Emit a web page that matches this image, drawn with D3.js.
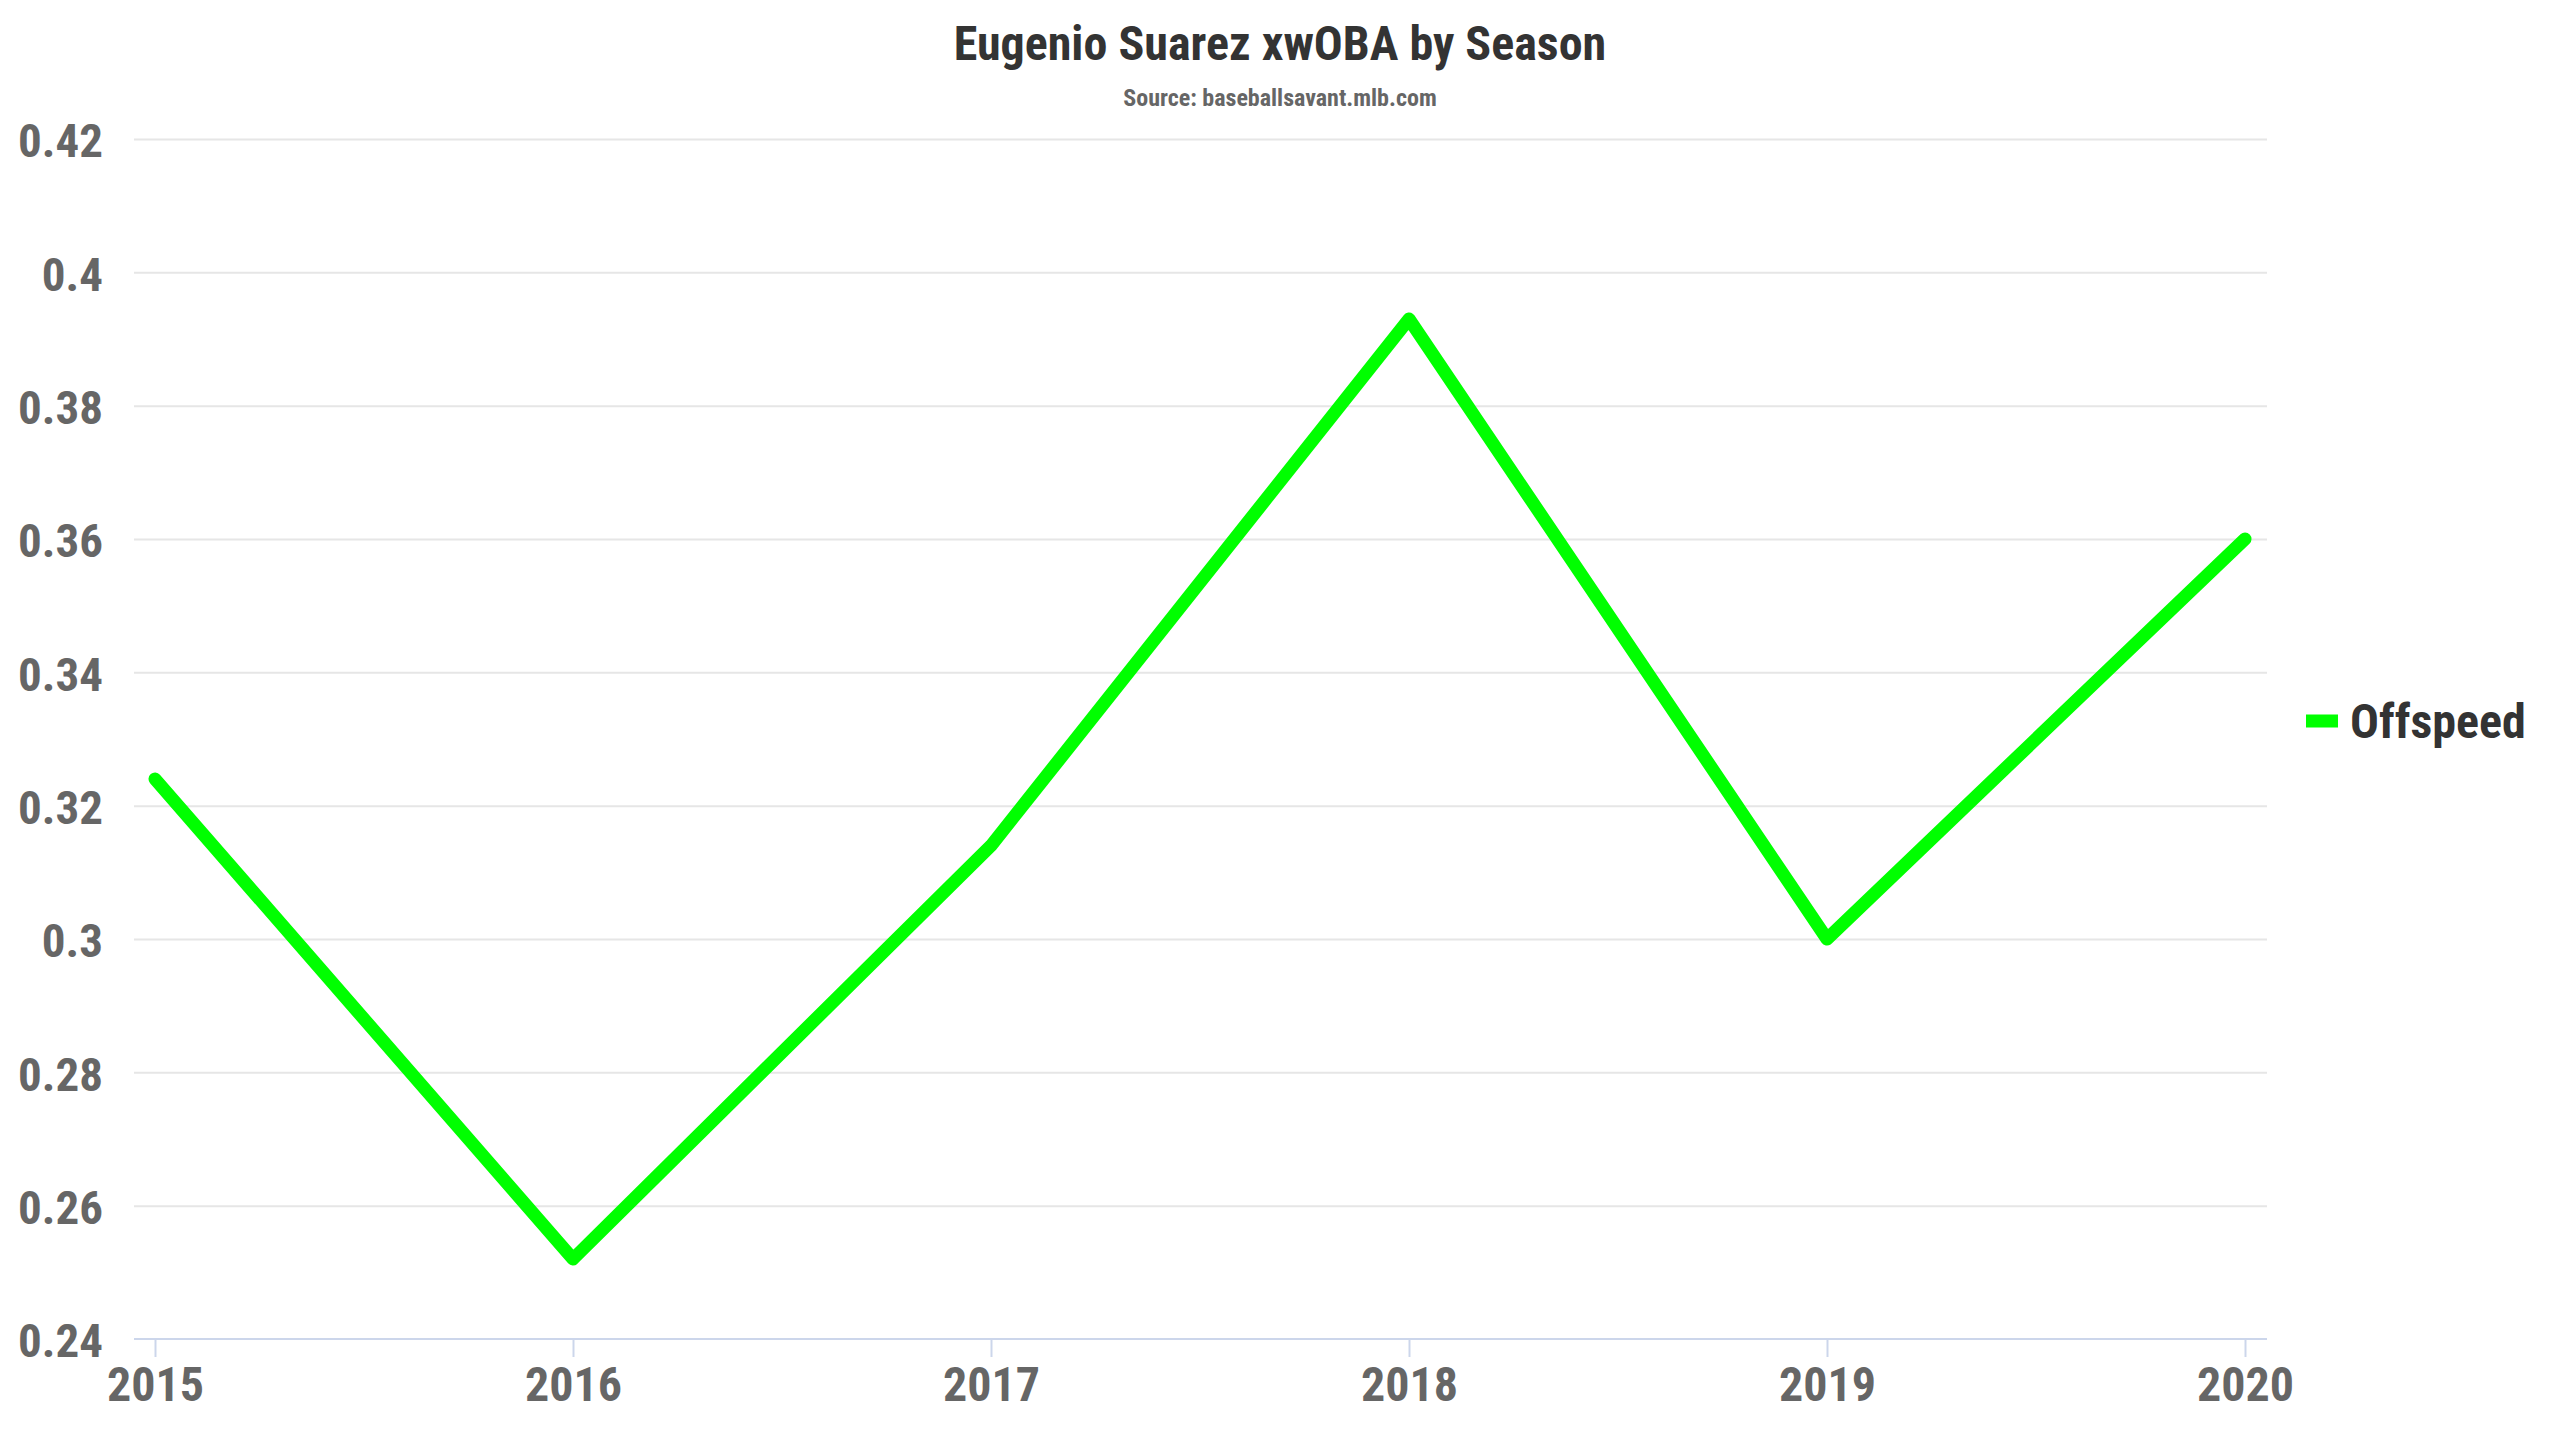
<!DOCTYPE html>
<html lang="en">
<head>
    <meta charset="utf-8">
    <title>Eugenio Suarez xwOBA by Season</title>
    <script type="text/javascript" src="https://cdn.jsdelivr.net/npm/d3@7"></script>
    <style type="text/css">
        body { margin: 0; background: #fff; }
        text {
            font-family: "Roboto Condensed", Roboto, sans-serif;
            font-stretch: condensed;
            font-weight: bold;
        }
    </style>
</head>
<body>
<script type="text/javascript">
    var seasons = [2015, 2016, 2017, 2018, 2019, 2020];
    var xwoba = [0.324, 0.252, 0.314, 0.393, 0.300, 0.360];
    var yTicks = [0.24, 0.26, 0.28, 0.30, 0.32, 0.34, 0.36, 0.38, 0.40, 0.42];
    var seriesName = "Offspeed";
    var title = "Eugenio Suarez xwOBA by Season";
    var subtitle = "Source: baseballsavant.mlb.com";

    var w = 2560;
    var h = 1440;
    var plotLeft = 134, plotRight = 2267, plotTop = 139, plotBottom = 1339;

    var svg = d3.select("body")
            .append("svg")
            .attr("width", w)
            .attr("height", h);

    svg.append("rect").attr("width", w).attr("height", h).attr("fill", "#fff");

    var x = d3.scaleLinear()
            .domain([seasons[0], seasons[seasons.length - 1]])
            .range([plotLeft + 21, plotRight - 22]);

    var y = d3.scaleLinear()
            .domain([yTicks[0], yTicks[yTicks.length - 1]])
            .range([plotBottom, plotTop]);

    // grid + y labels
    var yAxis = svg.append("g")
            .attr("transform", "translate(" + plotLeft + ",0)")
            .call(d3.axisLeft(y)
                .tickValues(yTicks)
                .tickSize(-(plotRight - plotLeft))
                .tickPadding(31)
                .tickFormat(function(d){ return String(+d.toFixed(2)); }));
    yAxis.select(".domain").remove();
    yAxis.selectAll("line")
            .attr("stroke", "#e6e6e6")
            .attr("stroke-width", 2);
    yAxis.selectAll("text")
            .attr("dy", "0.38em")
            .attr("fill", "#666666")
            .attr("font-size", "47px");
    // baseline gridline hidden under axis line
    yAxis.selectAll(".tick").filter(function(d){ return d === yTicks[0]; })
            .select("line").remove();

    // x axis
    var xAxis = svg.append("g")
            .attr("transform", "translate(0," + plotBottom + ")")
            .call(d3.axisBottom(x)
                .tickValues(seasons)
                .tickSize(18)
                .tickPadding(10)
                .tickFormat(d3.format("d")));
    xAxis.select(".domain").remove();
    xAxis.selectAll("line")
            .attr("stroke", "#ccd6eb")
            .attr("stroke-width", 2);
    xAxis.selectAll("text")
            .attr("fill", "#666666")
            .attr("font-size", "48px");
    xAxis.append("line")
            .attr("x1", plotLeft)
            .attr("x2", plotRight)
            .attr("stroke", "#ccd6eb")
            .attr("stroke-width", 2);

    // series line
    var line = d3.line()
            .x(function(d, i){ return x(seasons[i]); })
            .y(function(d){ return y(d); });

    svg.append("path")
            .datum(xwoba)
            .attr("d", line)
            .attr("fill", "none")
            .attr("stroke", "#00ff00")
            .attr("stroke-width", 13)
            .attr("stroke-linejoin", "round")
            .attr("stroke-linecap", "round");

    // titles
    svg.append("text")
            .text(title)
            .attr("x", w / 2)
            .attr("y", 60)
            .attr("text-anchor", "middle")
            .attr("font-size", "48px")
            .attr("fill", "#333333");
    svg.append("text")
            .text(subtitle)
            .attr("x", w / 2)
            .attr("y", 106)
            .attr("text-anchor", "middle")
            .attr("font-size", "24px")
            .attr("fill", "#666666");

    // legend
    var legend = svg.append("g").attr("transform", "translate(2306,721)");
    legend.append("rect")
            .attr("x", 0)
            .attr("y", -6.5)
            .attr("width", 32)
            .attr("height", 13)
            .attr("fill", "#00ff00");
    legend.append("text")
            .text(seriesName)
            .attr("x", 44)
            .attr("y", 17)
            .attr("font-size", "48px")
            .attr("fill", "#333333");
</script>
</body>
</html>
